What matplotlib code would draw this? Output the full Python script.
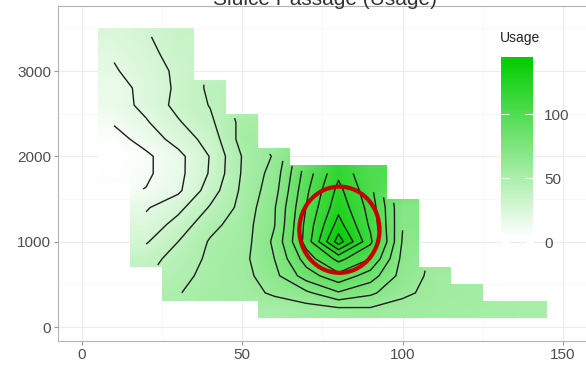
import matplotlib
matplotlib.use('Agg')
import matplotlib.pyplot as plt
import numpy as np
from matplotlib.colors import LinearSegmentedColormap, Normalize
from matplotlib.patches import Polygon, Ellipse
from matplotlib.lines import Line2D

plt.rcParams['font.family'] = ['Liberation Sans', 'DejaVu Sans']

title = "Sluice Passage (Usage)"
legend_title = "Usage"

# tile centres (x step 10, y step 200)
x_centres = [10, 20, 30, 40, 50, 60, 70, 80, 90, 100, 110, 120, 130, 140]
y_centres = [200, 400, 600, 800, 1000, 1200, 1400, 1600, 1800,
             2000, 2200, 2400, 2600, 2800, 3000, 3200, 3400]
n = np.nan
# usage per tile, one row per y centre, nan = no tile
usage = np.array([
    #  10    20    30    40    50    60     70     80     90    100  110  120  130  140
    [n,    n,    n,    n,    n,    52,    55,    57,    58,    56,  55,  54,  53,  52],   # 200
    [n,    n,    49.5, 54,   55,   62,    68,    79,    72,    62,  57,  55,  n,   n],    # 400
    [n,    n,    47,   53,   56,   67,    85,    97,    85,    66,  57,  n,   n,   n],    # 600
    [n,    36,   44,   52,   57,   70,    95,    113,   100,   67,  n,   n,   n,   n],    # 800
    [n,    29,   40,   51,   55,   72,    104,   145,   112,   69,  n,   n,   n,   n],    # 1000
    [n,    23,   34,   47,   55,   69.5,  103,   134,   108,   70.5, n,  n,   n,   n],    # 1200
    [n,    19,   27,   41,   53,   69,    100.5, 127,   106,   71,  n,   n,   n,   n],    # 1400
    [n,    10.5, 18,   35,   52,   66,    98,    123,   103,   n,   n,   n,   n,   n],    # 1600
    [5,    8,    17,   31,   51,   64,    95,    118,   100.5, n,   n,   n,   n,   n],    # 1800
    [4,    8,    17,   30.5, 50.5, 61,    n,     n,     n,     n,   n,   n,   n,   n],    # 2000
    [6,    14,   24,   34,   54,   n,     n,     n,     n,     n,   n,   n,   n,   n],    # 2200
    [11,   19,   29,   38,   53,   n,     n,     n,     n,     n,   n,   n,   n,   n],    # 2400
    [15,   23,   33,   40.5, n,    n,     n,     n,     n,     n,   n,   n,   n,   n],    # 2600
    [16,   23,   32,   42,   n,    n,     n,     n,     n,     n,   n,   n,   n,   n],    # 2800
    [19,   25,   32,   n,    n,    n,     n,     n,     n,     n,   n,   n,   n,   n],    # 3000
    [21,   27,   34,   n,    n,    n,     n,     n,     n,     n,   n,   n,   n,   n],    # 3200
    [24,   29,   35,   n,    n,    n,     n,     n,     n,     n,   n,   n,   n,   n],    # 3400
])
contour_levels = np.arange(10, 150, 10)
x_ticks = [0, 50, 100, 150]
y_ticks = [0, 1000, 2000, 3000]
bar_ticks = [0, 50, 100]

xs = np.array(x_centres, float)
ys = np.array(y_centres, float)
dx, dy = 10, 200

cmap = LinearSegmentedColormap.from_list('usage', ['#ffffff', '#00cd00'])
zmin, zmax = np.nanmin(usage), np.nanmax(usage)
norm = Normalize(vmin=zmin, vmax=zmax)

fig = plt.figure(figsize=(5.86, 3.71), dpi=100)
ax = fig.add_axes([58 / 586, 1 - 341 / 371, 528 / 586, 335 / 371])

# grid
for v in [25, 75, 125]:
    ax.axvline(v, color='#f4f4f4', lw=0.5, zorder=0)
for v in [500, 1500, 2500, 3500]:
    ax.axhline(v, color='#f4f4f4', lw=0.5, zorder=0)
for v in x_ticks:
    ax.axvline(v, color='#ececec', lw=0.8, zorder=0)
for v in y_ticks:
    ax.axhline(v, color='#ececec', lw=0.8, zorder=0)

# smooth fill: holes padded with neighbour means, then clipped to the tiles
filled = usage.copy()
while np.isnan(filled).any():
    pad = np.pad(filled, 1, constant_values=np.nan)
    nb = np.stack([pad[:-2, 1:-1], pad[2:, 1:-1], pad[1:-1, :-2], pad[1:-1, 2:]])
    cnt = (~np.isnan(nb)).sum(0)
    est = np.where(cnt > 0, np.nansum(nb, 0) / np.maximum(cnt, 1), np.nan)
    hole = np.isnan(filled) & ~np.isnan(est)
    filled[hole] = est[hole]

im = ax.imshow(filled, extent=[xs[0] - dx / 2, xs[-1] + dx / 2, ys[0] - dy / 2, ys[-1] + dy / 2],
               origin='lower', aspect='auto', interpolation='bilinear',
               cmap=cmap, norm=norm, zorder=1)

# staircase outline of the tiles
top, bottom = [], []
for j, x in enumerate(xs):
    rows = np.where(~np.isnan(usage[:, j]))[0]
    lo, hi = ys[rows[0]] - dy / 2, ys[rows[-1]] + dy / 2
    top += [(x - dx / 2, hi), (x + dx / 2, hi)]
    bottom += [(x - dx / 2, lo), (x + dx / 2, lo)]
outline = Polygon(top + bottom[::-1], closed=True, transform=ax.transData)
im.set_clip_path(outline)

ax.contour(xs, ys, np.ma.masked_invalid(usage), levels=contour_levels,
           colors='#1c1c1c', linewidths=1.0, zorder=2)

# highlight ring round the peak
pk = np.unravel_index(np.nanargmax(usage), usage.shape)
ax.add_patch(Ellipse((xs[pk[1]] + 0.3, ys[pk[0]] + 140), 25, 1010, fill=False,
                     edgecolor='#c40000', lw=3, zorder=3))

ax.set_xlim(-7.48, 157.2)
ax.set_ylim(-164, 3762)
ax.set_xticks(x_ticks)
ax.set_yticks(y_ticks)
ax.tick_params(colors='#9a9a9a', labelcolor='#4d4d4d', labelsize=11, length=3, width=0.8, pad=2)
for s in ['left', 'bottom', 'top']:
    ax.spines[s].set_color('#b4b4b4')
    ax.spines[s].set_linewidth(0.8)
ax.spines['right'].set_visible(False)

fig.text(325 / 586, 1 - 5 / 371, title, ha='center', va='baseline', fontsize=15, color='#333333')

# legend colour bar
fig.text(500 / 586, 1 - 38 / 371, legend_title, ha='left', va='center', fontsize=10, color='#222222')
cax = fig.add_axes([501 / 586, 1 - 242 / 371, 32 / 586, 185 / 371])
grad = np.linspace(zmin, zmax, 256).reshape(-1, 1)
cax.imshow(grad, extent=[0, 1, zmin, zmax], origin='lower', aspect='auto', cmap=cmap, norm=norm)
cax.set_xlim(0, 1)
cax.set_ylim(0, zmax)
cax.set_xticks([])
cax.set_yticks(bar_ticks)
cax.yaxis.tick_right()
cax.tick_params(axis='y', left=True, right=True, direction='in', color='white', length=6,
                width=0.8, labelsize=11, labelcolor='#4d4d4d', pad=8)
for s in cax.spines.values():
    s.set_visible(False)

fig.savefig('out.png', dpi=100)
